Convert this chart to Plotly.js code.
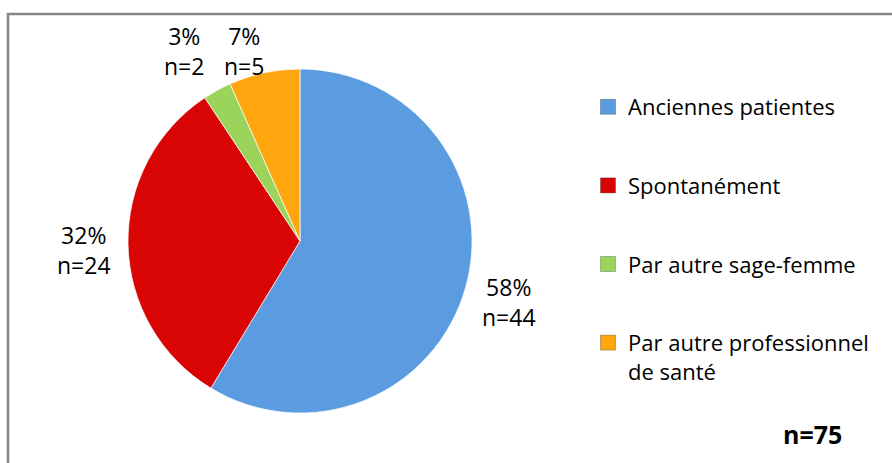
<!DOCTYPE html>
<html>
<head>
<meta charset="utf-8">
<script src="https://cdn.plot.ly/plotly-3.0.1.min.js"></script>
<style>
  html, body { margin: 0; padding: 0; background: #ffffff; }
  #chart { width: 892px; height: 463px; }
</style>
</head>
<body>
<div id="chart"></div>
<script>
// ---- data ----
const categories = ["Anciennes patientes", "Spontanément", "Par autre sage-femme", "Par autre professionnel de santé"];
const legendLabels = ["Anciennes patientes", "Spontanément", "Par autre sage-femme", "Par autre professionnel<br>de santé"];
const counts = [44, 24, 2, 5];
const percentLabels = ["58%", "32%", "3%", "7%"];
const totalLabel = "n=75";

// ---- styles / layout helpers ----
const colors = ["#5B9BE0", "#D90404", "#9BD45A", "#FFA60F"];
const W = 892, H = 463;
const labelPx = [[509, 302], [84, 250], [184, 51], [244, 51]];
const px = (x) => x / W;
const py = (y) => 1 - y / H;
const FONT = "Open Sans, sans-serif";

const pie = {
  type: "pie",
  labels: categories,
  values: counts,
  sort: false,
  direction: "clockwise",
  rotation: 0,
  textinfo: "none",
  hoverinfo: "label+value",
  showlegend: false,
  marker: { colors: colors, line: { color: "rgba(255,255,255,0.7)", width: 1 } },
  domain: { x: [px(128), px(472)], y: [py(413), py(69)] }
};

const legendTraces = categories.map((c, i) => ({
  type: "scatter",
  mode: "markers",
  x: [null], y: [null],
  name: legendLabels[i],
  legendgroup: "g" + i,
  showlegend: true,
  marker: { symbol: "square", size: 15, color: colors[i], line: { color: "rgba(0,0,0,0.25)", width: 1 } },
  hoverinfo: "skip"
}));

const annotations = counts.map((n, i) => ({
  xref: "paper", yref: "paper",
  x: px(labelPx[i][0]), y: py(labelPx[i][1]),
  xanchor: "center", yanchor: "middle",
  text: percentLabels[i] + "<br>n=" + n,
  showarrow: false,
  align: "center",
  font: { family: FONT, size: 23, color: "#000000" }
}));
annotations.push({
  xref: "paper", yref: "paper",
  x: px(812), y: py(434),
  xanchor: "center", yanchor: "middle",
  text: "<b>" + totalLabel + "</b>",
  showarrow: false,
  font: { family: FONT, size: 25, color: "#000000" }
});

const layout = {
  width: W, height: H,
  margin: { l: 0, r: 0, t: 0, b: 0, pad: 0 },
  paper_bgcolor: "#ffffff",
  plot_bgcolor: "#ffffff",
  font: { family: FONT, color: "#000000" },
  xaxis: { visible: false, domain: [0.9, 1] },
  yaxis: { visible: false, domain: [0.9, 1] },
  showlegend: true,
  legend: {
    x: px(588), y: py(86), xanchor: "left", yanchor: "top",
    traceorder: "grouped",
    tracegroupgap: 47,
    valign: "top",
    font: { family: FONT, size: 22, color: "#000000" },
    bgcolor: "rgba(0,0,0,0)"
  },
  annotations: annotations,
  shapes: [{
    type: "rect", xref: "paper", yref: "paper",
    x0: px(8), x1: 1.02, y0: -0.02, y1: py(14),
    line: { color: "#868686", width: 2.5 },
    fillcolor: "rgba(0,0,0,0)"
  }]
};

Plotly.newPlot("chart", [pie].concat(legendTraces), layout, { displayModeBar: false, staticPlot: true });
</script>
</body>
</html>
